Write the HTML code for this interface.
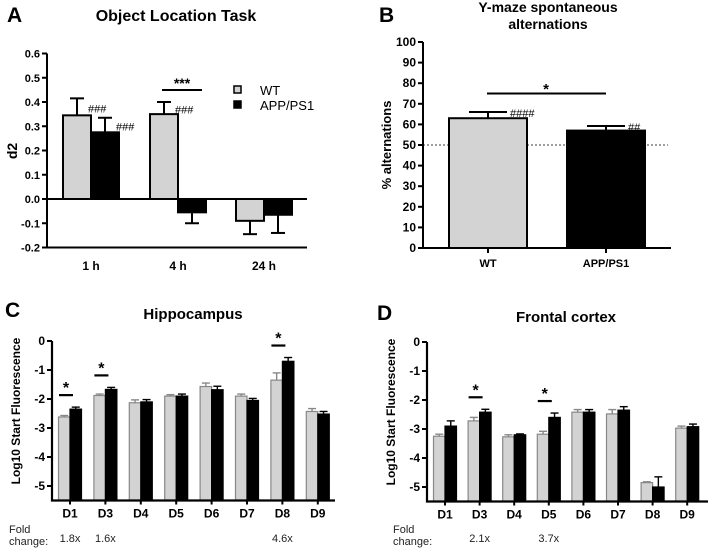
<!DOCTYPE html>
<html><head><meta charset="utf-8"><style>
body{margin:0;background:#fff}
svg{display:block;font-family:"Liberation Sans",Arial,sans-serif}
</style></head><body>
<svg id="fig" width="708" height="548" viewBox="0 0 708 548">
<g id="gA"></g>
<g id="gB"></g>
<g id="gC"></g>
<g id="gD"></g>
</svg>
<script>
// Panel A data
const aCats=["1 h","4 h","24 h"];
const aWT=[0.345,0.35,-0.09];
const aWTerr=[0.07,0.05,-0.055];
const aAPP=[0.275,-0.055,-0.065];
const aAPPerr=[0.06,-0.045,-0.075];
const aTicks=[0.6,0.5,0.4,0.3,0.2,0.1,0.0,-0.1,-0.2];
// Panel B data
const bCats=["WT","APP/PS1"];
const bVals=[63,57];
const bErr=[3,2.2];
const bTicks=[100,90,80,70,60,50,40,30,20,10,0];
// Panel C data
const cCats=["D1","D3","D4","D5","D6","D7","D8","D9"];
const cWT=[-2.62,-1.88,-2.13,-1.9,-1.57,-1.9,-1.35,-2.43];
const cWTerr=[0.05,0.05,0.1,0.05,0.12,0.07,0.25,0.1];
const cAPP=[-2.35,-1.67,-2.1,-1.9,-1.68,-2.05,-0.7,-2.52];
const cAPPerr=[0.07,0.07,0.08,0.07,0.12,0.07,0.13,0.09];
const cFold=["1.8x","1.6x","","","","","4.6x",""];
const cSig=[0,1,6];
// Panel D data
const dCats=["D1","D3","D4","D5","D6","D7","D8","D9"];
const dWT=[-3.25,-2.72,-3.27,-3.18,-2.42,-2.48,-4.85,-2.97];
const dWTerr=[0.07,0.12,0.07,0.1,0.09,0.15,0.03,0.07];
const dAPP=[-2.9,-2.42,-3.2,-2.6,-2.42,-2.35,-5.0,-2.92];
const dAPPerr=[0.18,0.1,0.03,0.15,0.09,0.12,0.35,0.09];
const dFold=["","2.1x","","3.7x","","","",""];
const dSig=[1,3];
const logTicks=[0,-1,-2,-3,-4,-5];

const NS="http://www.w3.org/2000/svg";
function mk(parent,tag,attrs,txt){const e=document.createElementNS(NS,tag);for(const k in attrs)e.setAttribute(k,attrs[k]);if(txt!==undefined)e.textContent=txt;parent.appendChild(e);return e;}
const GREY="#d3d3d3";

// ---------- Panel A ----------
(function(){
const g=document.getElementById('gA');
const y=v=>199-v*242.5;
const x0=47,x1=307;
const centers=[91,178,264];
let t;
t=mk(g,'text',{x:7,y:22,'font-size':21,'font-weight':'bold'},'A');


t=mk(g,'text',{x:176,y:21,'font-size':16,'font-weight':'bold','text-anchor':'middle'},'Object Location Task');


t=mk(g,'text',{x:0,y:0,'font-size':14,'font-weight':'bold','text-anchor':'middle',transform:'translate(17,151) rotate(-90)'},'d2');


aTicks.forEach(v=>{
 let l=mk(g,'line',{x1:x0-5,x2:x0,y1:y(v),y2:y(v),stroke:'#000','stroke-width':2});
 
 
 let tt=mk(g,'text',{x:x0-7,y:y(v)+4,'font-size':11,'font-weight':'bold','text-anchor':'end'},v.toFixed(1));
 
 
});
aCats.forEach((c,i)=>{
 const cx=centers[i];
 [[aWT[i],aWTerr[i],cx-28,GREY],[aAPP[i],aAPPerr[i],cx,'#000']].forEach(([v,e,bx,f],j)=>{
  const top=Math.min(y(v),y(0)),h=Math.abs(y(v)-y(0));
  const ex=bx+14;
  let el=mk(g,'line',{x1:ex,x2:ex,y1:y(v),y2:y(v+e),stroke:'#000','stroke-width':2});
  
  
  let ec=mk(g,'line',{x1:ex-7,x2:ex+7,y1:y(v+e),y2:y(v+e),stroke:'#000','stroke-width':2});
  
  
  let r=mk(g,'rect',{x:bx,y:top,width:28,height:h,fill:f,stroke:'#000','stroke-width':2});
  
  
 });
 let tl=mk(g,'text',{x:cx,y:270,'font-size':12,'font-weight':'bold','text-anchor':'middle'},c);
 
 
});
let ax=mk(g,'path',{d:`M${x0} ${y(0.6)} V${y(-0.2)} H${x1} M${x0} ${y(0)} H${x1}`,stroke:'#000','stroke-width':2,fill:'none'});


[[0,aWT,aWTerr,-28],[0,aAPP,aAPPerr,0],[1,aWT,aWTerr,-28]].forEach(([i,vals,errs,off])=>{
 let h=mk(g,'text',{x:centers[i]+off+25,y:y(vals[i]+errs[i]*0.4)+4,'font-size':11},'###');
 
 
});
let sl=mk(g,'line',{x1:162,x2:202,y1:90,y2:90,stroke:'#000','stroke-width':2});


let st=mk(g,'text',{x:182,y:88,'font-size':14,'font-weight':'bold','text-anchor':'middle'},'***');


[['WT',GREY,90],['APP/PS1','#000',105]].forEach(([n,f,yy])=>{
 let r=mk(g,'rect',{x:234,y:yy-4,width:7,height:7,fill:f,stroke:'#000','stroke-width':1.5});
 
 
 let tt=mk(g,'text',{x:260,y:yy+5,'font-size':13},n);
 
 
});
})();

// ---------- Panel B ----------
(function(){
const g=document.getElementById('gB');
const y=v=>248-v*2.06;
const x0=423,x1=671;
const bxs=[449,567],bw=78;
let t;
t=mk(g,'text',{x:379,y:22,'font-size':21,'font-weight':'bold'},'B');


t=mk(g,'text',{x:548,y:12,'font-size':14,'font-weight':'bold','text-anchor':'middle'},'Y-maze spontaneous');


t=mk(g,'text',{x:548,y:29,'font-size':14,'font-weight':'bold','text-anchor':'middle'},'alternations');


t=mk(g,'text',{x:0,y:0,'font-size':13,'font-weight':'bold','text-anchor':'middle',transform:'translate(391,145) rotate(-90)'},'% alternations');


bTicks.forEach(v=>{
 let l=mk(g,'line',{x1:x0-5,x2:x0,y1:y(v),y2:y(v),stroke:'#000','stroke-width':2});
 
 
 let tt=mk(g,'text',{x:x0-7,y:y(v)+4,'font-size':12,'font-weight':'bold','text-anchor':'end'},v);
 
 
});
let dl=mk(g,'line',{x1:x0,x2:668,y1:y(50),y2:y(50),stroke:'#000','stroke-width':0.8,'stroke-dasharray':'2,2'});


bCats.forEach((c,i)=>{
 const cx=bxs[i]+bw/2;
 let el=mk(g,'line',{x1:cx,x2:cx,y1:y(bVals[i]),y2:y(bVals[i]+bErr[i]),stroke:'#000','stroke-width':2});
 
 
 let ec=mk(g,'line',{x1:cx-19,x2:cx+19,y1:y(bVals[i]+bErr[i]),y2:y(bVals[i]+bErr[i]),stroke:'#000','stroke-width':2});
 
 
 let r=mk(g,'rect',{x:bxs[i],y:y(bVals[i]),width:bw,height:y(0)-y(bVals[i]),fill:i?'#000':GREY,stroke:'#000','stroke-width':2});
 
 
 let tl=mk(g,'text',{x:cx,y:267,'font-size':11,'font-weight':'bold','text-anchor':'middle'},c);
 
 
 let tk=mk(g,'line',{x1:cx,x2:cx,y1:248,y2:253,stroke:'#000','stroke-width':2});
 
 
 let h=mk(g,'text',{x:cx+22,y:y(bVals[i]+bErr[i])+5,'font-size':11},i?'##':'####');
 
 
});
let ax=mk(g,'path',{d:`M${x0} ${y(100)} V${y(0)} H${x1}`,stroke:'#000','stroke-width':2,fill:'none'});


let sl=mk(g,'line',{x1:487,x2:606,y1:y(75),y2:y(75),stroke:'#000','stroke-width':2});


let st=mk(g,'text',{x:546,y:94,'font-size':15,'font-weight':'bold','text-anchor':'middle'},'*');


})();

// ---------- Panels C / D ----------
function logPanel(g,o){
 const y=v=>o.y0-v*29;
 const bottom=o.y0+5.5*29;
 let t;
 t=mk(g,'text',{x:o.lx,y:o.ly,'font-size':21,'font-weight':'bold'},o.letter);
 
 
 t=mk(g,'text',{x:o.tx,y:o.ty,'font-size':15,'font-weight':'bold','text-anchor':'middle'},o.title);
 
 
 t=mk(g,'text',{x:0,y:0,'font-size':12,'font-weight':'bold','text-anchor':'middle',transform:`translate(${o.x0-32},${o.y0+70}) rotate(-90)`},'Log10 Start Fluorescence');
 
 
 logTicks.forEach(v=>{
  let l=mk(g,'line',{x1:o.x0-5,x2:o.x0,y1:y(v),y2:y(v),stroke:'#000','stroke-width':2});
  
  
  let tt=mk(g,'text',{x:o.x0-7,y:y(v)+4,'font-size':12,'font-weight':'bold','text-anchor':'end'},v);
  
  
 });
 o.cats.forEach((c,i)=>{
  const cx=o.c0+i*o.sp;
  [[o.wt[i],o.wte[i],cx-11.5,GREY,'#888'],[o.app[i],o.appe[i],cx,'#000','#000']].forEach(([v,e,bx,f,s],j)=>{
   const ex=bx+5.75;
   let el=mk(g,'line',{x1:ex,x2:ex,y1:y(v),y2:y(v+e),stroke:s,'stroke-width':1.4});
   
   
   let ec=mk(g,'line',{x1:ex-4,x2:ex+4,y1:y(v+e),y2:y(v+e),stroke:s,'stroke-width':1.4});
   
   
   let r=mk(g,'rect',{x:bx,y:y(v),width:11.5,height:bottom-y(v),fill:f,stroke:s,'stroke-width':1.2});
   
   
  });
  let tl=mk(g,'text',{x:cx,y:bottom+17,'font-size':12,'font-weight':'bold','text-anchor':'middle'},c);
  
  
  let tk=mk(g,'line',{x1:cx,x2:cx,y1:bottom,y2:bottom+4,stroke:'#000','stroke-width':2});
  
  
  if(o.fold[i]){
   let f=mk(g,'text',{x:cx,y:542,'font-size':11,'text-anchor':'middle',fill:'#222'},o.fold[i]);
   
   
  }
 });
 o.sig.forEach(i=>{
  const cx=o.c0+i*o.sp;
  const top=Math.max(o.wt[i]+o.wte[i],o.app[i]+o.appe[i]);
  const ly=y(top)-12;
  let sl=mk(g,'line',{x1:cx-11,x2:cx+3,y1:ly,y2:ly,stroke:'#000','stroke-width':2.2});
  
  
  let st=mk(g,'text',{x:cx-4,y:ly-2,'font-size':16,'font-weight':'bold','text-anchor':'middle'},'*');
  
  
 });
 let ax=mk(g,'path',{d:`M${o.x0} ${y(0)} V${bottom} H${o.x1}`,stroke:'#000','stroke-width':2.2,fill:'none'});
 
 
 let f1=mk(g,'text',{x:o.fx,y:533,'font-size':11,fill:'#222'},'Fold');
 
 
 let f2=mk(g,'text',{x:o.fx,y:545,'font-size':11,fill:'#222'},'change:');
 
 
}
logPanel(document.getElementById('gC'),{letter:'C',lx:5,ly:317,title:'Hippocampus',tx:193,ty:319,x0:52,x1:335,y0:341,c0:70,sp:35.4,cats:cCats,wt:cWT,wte:cWTerr,app:cAPP,appe:cAPPerr,fold:cFold,sig:cSig,fx:9});
logPanel(document.getElementById('gD'),{letter:'D',lx:377,ly:320,title:'Frontal cortex',tx:566,ty:322,x0:427,x1:708,y0:342,c0:445,sp:34.6,cats:dCats,wt:dWT,wte:dWTerr,app:dAPP,appe:dAPPerr,fold:dFold,sig:dSig,fx:393});
</script>
</body></html>
